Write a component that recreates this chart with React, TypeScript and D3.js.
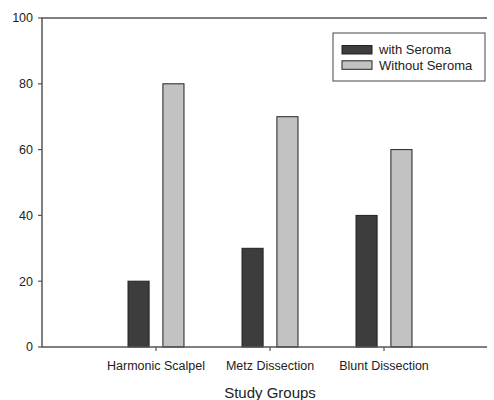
import { scaleLinear } from "d3";

const groups = ["Harmonic Scalpel", "Metz Dissection", "Blunt Dissection"];
const withSeroma = [20, 30, 40];
const withoutSeroma = [80, 70, 60];
const yTicks = [0, 20, 40, 60, 80, 100];
const seriesNames = ["with Seroma", "Without Seroma"];
const seriesColors = ["#3d3d3d", "#c2c2c2"];

const W = 494;
const H = 400;
const margin = { top: 18, right: -4, bottom: 53, left: 42 };
const frameEnd = 487; // the frame is open on the right in the source

export default function App() {
  const x = scaleLinear()
    .domain([0, 4])
    .range([margin.left, W - margin.right]);
  const y = scaleLinear()
    .domain([0, 100])
    .range([H - margin.bottom, margin.top]);

  const barW = 0.185; // in category units
  const offset = 0.153;
  const series = [withSeroma, withoutSeroma];
  const font = "'Liberation Sans', Arial, sans-serif";
  const axisColor = "#555";

  return (
    <>
      <style>{`html,body{margin:0;overflow:hidden}`}</style>
      <svg width={W} height={H} style={{ display: "block", background: "#fff" }} fontFamily={font}>
        {/* bars */}
        {series.map((vals, s) =>
          vals.map((v, i) => {
            const cx = x(i + 1) + (s === 0 ? -1 : 1) * (x(offset) - x(0));
            const w = x(barW) - x(0);
            return (
              <rect
                key={`${s}-${i}`}
                x={cx - w / 2}
                y={y(v)}
                width={w}
                height={y(0) - y(v)}
                fill={seriesColors[s]}
                stroke="#222"
                strokeWidth={1}
              />
            );
          })
        )}

        {/* axes frame, open on the right */}
        <path
          d={`M${frameEnd},${y(100)}H${margin.left}V${y(0)}H${frameEnd}`}
          fill="none"
          stroke={axisColor}
          strokeWidth={1.5}
        />

        {/* y ticks */}
        {yTicks.map((t) => (
          <g key={t} transform={`translate(0,${y(t)})`}>
            <line x1={margin.left - 4} x2={margin.left} stroke={axisColor} strokeWidth={1.2} />
            <text x={margin.left - 9} dy="0.35em" textAnchor="end" fontSize={12.5} fill="#222">
              {t}
            </text>
          </g>
        ))}

        {/* x ticks */}
        {groups.map((g, i) => (
          <g key={g} transform={`translate(${x(i + 1)},${y(0)})`}>
            <line y1={0} y2={4} stroke={axisColor} strokeWidth={1.2} />
            <text y={23} textAnchor="middle" fontSize={12.5} fill="#222">
              {g}
            </text>
          </g>
        ))}

        <text x={x(2)} y={398} textAnchor="middle" fontSize={15} fill="#222">
          Study Groups
        </text>

        {/* legend */}
        <g transform="translate(333,33)">
          <rect x={0} y={0} width={152} height={48} fill="#fff" stroke="#444" strokeWidth={1} />
          {seriesNames.map((n, i) => (
            <g key={n} transform={`translate(9,${12.5 + i * 15.3})`}>
              <rect x={0} y={0} width={30} height={8.5} fill={seriesColors[i]} stroke="#222" />
              <text x={37} y={4.3} dy="0.35em" fontSize={13} fill="#222">
                {n}
              </text>
            </g>
          ))}
        </g>
      </svg>
    </>
  );
}
